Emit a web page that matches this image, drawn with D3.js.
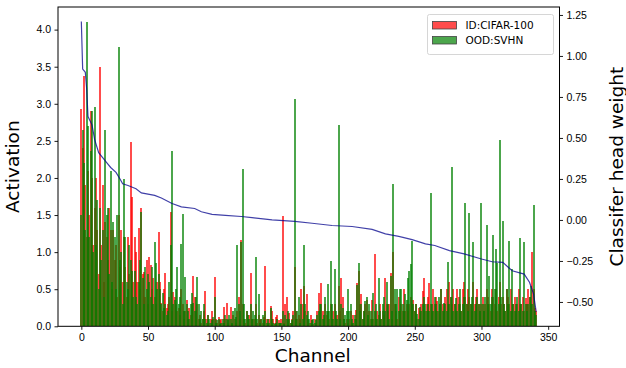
<!DOCTYPE html>
<html>
<head>
<meta charset="utf-8">
<script src="https://cdn.jsdelivr.net/npm/d3@7"></script>
<style>
  body { margin: 0; background: #fff; }
  svg { display: block; font-family: "DejaVu Sans", sans-serif; }
  .tick text { font-size: 10.5px; fill: #000; }
</style>
</head>
<body>
<div id="chart"></div>
<script>
// activation per channel, ID:CIFAR-100 (red)
const idAct = [
  2.93, 2.4, 3.38, 1.9, 1.2, 2.1, 1.5, 2.9, 2.0, 1.1,
  1.6, 2.0, 1.3, 0.7, 3.5, 1.1, 1.9, 0.6, 1.4, 1.2,
  0.9, 1.6, 1.3, 0.5, 1.3, 0.9, 1.1, 0.4, 1.5, 0.8,
  1.3, 0.6, 1.2, 0.8, 0.4, 1.2, 0.7, 2.48, 1.74, 0.6,
  1.2, 1.0, 0.6, 1.33, 0.5, 1.59, 0.7, 0.73, 0.4, 0.9,
  0.3, 0.93, 0.83, 0.5, 0.65, 0.4, 0.3, 0.6, 1.27, 0.6,
  0.31, 0.2, 0.5, 0.72, 0.24, 0.3, 0.4, 1.54, 0.2, 0.46,
  0.4, 0.3, 0.2, 0.25, 0.15, 0.5, 0.3, 0.1, 0.2, 0.35,
  0.1, 0.25, 0.15, 0.3, 0.68, 0.4, 0.2, 0.3, 0.1, 0.15,
  0.05, 0.1, 0.2, 0.48, 0.1, 0.15, 0.05, 0.1, 0.2, 0.1,
  0.66, 0.1, 0.05, 0.12, 0.08, 0.1, 0.05, 0.26, 0.1, 0.31,
  0.05, 0.1, 0.26, 0.03, 0.15, 0.1, 0.05, 0.2, 0.4, 0.1,
  1.16, 0.3, 0.1, 0.05, 0.2, 0.1, 0.15, 0.72, 0.08, 0.1,
  0.1, 0.3, 0.05, 0.15, 0.08, 0.1, 0.05, 0.12, 0.81, 0.1,
  0.05, 0.1, 0.27, 0.2, 0.1, 0.05, 0.12, 0.15, 0.08, 0.05,
  0.1, 1.49, 0.05, 0.3, 0.39, 0.1, 0.18, 0.05, 0.1, 0.2,
  0.8, 0.2, 0.1, 0.15, 0.1, 0.5, 0.3, 0.55, 0.2, 0.43,
  0.1, 0.05, 0.15, 0.08, 0.03, 0.1, 0.05, 0.2, 0.45, 0.1,
  0.58, 0.2, 0.1, 0.3, 0.15, 0.2, 0.1, 0.3, 0.1, 0.2,
  0.3, 0.1, 0.15, 0.55, 0.2, 0.65, 0.4, 0.1, 0.05, 0.1,
  0.05, 0.1, 0.2, 0.05, 0.15, 0.1, 0.22, 0.58, 0.75, 0.3,
  0.43, 0.1, 0.2, 0.3, 0.36, 0.1, 0.2, 0.1, 0.36, 0.1,
  0.97, 0.1, 0.2, 0.15, 0.3, 0.1, 0.2, 0.15, 0.65, 0.3,
  0.2, 0.3, 0.72, 0.1, 1.0, 0.3, 0.2, 0.1, 0.4, 0.2,
  0.3, 0.2, 0.5, 0.2, 0.3, 0.2, 0.3, 0.4, 0.3, 0.36,
  0.2, 0.3, 0.1, 0.25, 0.2, 0.3, 0.48, 0.65, 0.2, 0.3,
  0.4, 0.58, 0.3, 0.2, 0.5, 0.3, 0.4, 0.34, 0.2, 0.3,
  0.5, 0.3, 0.2, 0.4, 0.5, 0.3, 0.6, 0.4, 0.3, 0.5,
  0.3, 0.2, 0.5, 0.4, 0.3, 0.2, 0.5, 0.6, 0.4, 0.3,
  0.5, 0.4, 0.3, 0.2, 0.6, 0.3, 0.4, 0.5, 0.3, 0.2,
  0.3, 0.4, 0.2, 0.3, 0.5, 0.4, 0.3, 0.2, 0.5, 0.4,
  0.3, 0.5, 0.2, 0.4, 0.6, 0.3, 0.4, 0.3, 0.2, 0.5,
  0.4, 0.3, 0.5, 0.2, 0.3, 0.4, 0.2, 0.3, 0.5, 0.3,
  0.3, 0.4, 0.2, 0.38, 0.3, 0.5, 0.4, 0.3, 1.0, 0.5,
  0.25, 0.2
]

// activation per channel, OOD:SVHN (green)
const oodAct = [
  1.5, 2.64, 2.2, 1.3, 4.1, 2.7, 1.2, 2.37, 2.9, 1.0,
  2.95, 1.1, 1.7, 0.5, 1.6, 0.9, 1.3, 0.4, 2.64, 1.5,
  1.6, 0.7, 2.09, 0.6, 1.4, 1.2, 0.5, 1.5, 3.77, 0.9,
  1.0, 0.3, 1.98, 1.2, 0.6, 0.5, 1.1, 0.9, 0.75, 0.4,
  0.75, 0.4, 0.3, 0.6, 0.9, 1.54, 0.65, 0.3, 0.8, 0.5,
  0.7, 0.6, 0.4, 0.8, 0.3, 1.13, 0.86, 0.5, 0.7, 0.5,
  0.3, 0.45, 0.25, 0.3, 0.15, 0.2, 0.6, 1.1, 2.36, 0.3,
  0.35, 0.5, 0.8, 0.3, 0.4, 1.11, 1.51, 0.2, 0.67, 0.3,
  0.2, 0.1, 0.3, 0.45, 0.32, 0.2, 0.4, 0.66, 0.3, 0.1,
  0.2, 0.1, 0.3, 0.1, 0.05, 0.15, 0.1, 0.05, 0.08, 0.12,
  0.4, 0.05, 0.08, 0.1, 0.03, 0.05, 0.1, 0.05, 0.15, 0.1,
  0.08, 0.15, 0.1, 0.05, 0.2, 0.25, 0.12, 1.09, 0.3, 0.2,
  1.14, 2.12, 0.3, 0.1, 0.2, 0.15, 0.1, 0.3, 0.1, 0.2,
  0.15, 0.93, 0.1, 0.43, 0.05, 0.1, 0.15, 0.08, 0.2, 0.05,
  0.1, 0.05, 0.24, 0.1, 0.05, 0.03, 0.05, 0.1, 0.04, 0.05,
  0.05, 0.2, 0.03, 0.15, 0.1, 0.2, 0.1, 0.05, 0.08, 0.15,
  3.07, 0.1, 0.2, 0.39, 0.05, 0.3, 0.1, 1.09, 0.3, 0.15,
  0.2, 0.1, 0.05, 0.08, 0.1, 0.05, 0.08, 0.15, 0.2, 0.3,
  0.3, 0.1, 0.15, 0.4, 0.2, 0.57, 0.2, 0.88, 0.3, 0.1,
  0.77, 0.2, 0.1, 2.71, 0.1, 0.3, 0.25, 0.1, 0.15, 0.2,
  0.5, 0.2, 0.3, 0.1, 0.05, 0.15, 0.1, 0.56, 0.85, 0.2,
  0.3, 0.1, 0.2, 0.34, 0.4, 0.15, 0.3, 0.2, 0.1, 0.45,
  0.2, 0.3, 0.1, 0.65, 0.2, 0.1, 0.3, 0.4, 0.2, 0.6,
  0.3, 0.1, 0.68, 0.2, 1.92, 0.5, 0.3, 0.5, 0.2, 0.5,
  0.5, 0.3, 0.2, 0.43, 0.35, 0.65, 0.75, 0.84, 1.15, 0.3,
  0.2, 0.3, 0.17, 0.1, 0.26, 0.2, 0.3, 0.4, 0.3, 0.2,
  0.3, 0.2, 1.8, 0.3, 0.2, 0.4, 0.3, 0.2, 0.4, 0.3,
  0.5, 0.2, 0.32, 0.3, 0.2, 0.87, 0.3, 0.4, 2.15, 0.2,
  0.3, 0.38, 0.2, 0.3, 0.5, 0.2, 0.3, 0.4, 1.66, 0.3,
  0.2, 1.53, 0.3, 0.4, 1.13, 0.2, 0.3, 0.4, 0.3, 0.2,
  1.66, 0.3, 0.2, 0.4, 1.36, 0.3, 0.68, 0.3, 0.4, 1.23,
  0.5, 1.04, 0.85, 0.3, 2.51, 0.4, 1.42, 0.3, 0.2, 0.5,
  0.3, 1.15, 0.2, 0.77, 0.3, 0.2, 0.3, 0.4, 0.2, 1.19,
  0.3, 0.2, 1.13, 0.3, 0.2, 0.3, 0.4, 0.55, 0.3, 1.63,
  0.2, 0.15
]

// sorted classifier head weight, read as [channel, weight]
const headWeight = [
  [0, 1.21], [1, 0.92], [2, 0.91], [3, 0.90], [4, 0.80], [5, 0.63], [8, 0.58],
  [10, 0.49], [13, 0.41], [16, 0.38], [19, 0.35], [22, 0.32], [26, 0.29],
  [29, 0.25], [31, 0.22], [35, 0.21], [41, 0.19], [45, 0.165], [55, 0.15],
  [60, 0.134], [68, 0.10], [75, 0.08], [85, 0.07], [90, 0.05], [98, 0.034],
  [108, 0.028], [120, 0.021], [128, 0.014], [143, 0.0], [160, -0.009],
  [173, -0.02], [188, -0.034], [203, -0.04], [218, -0.058], [228, -0.085],
  [238, -0.1], [248, -0.12], [258, -0.146], [265, -0.156], [276, -0.187],
  [287, -0.207], [300, -0.238], [308, -0.255], [316, -0.259], [323, -0.31],
  [332, -0.33], [336, -0.38], [339, -0.45], [341, -0.56]
]

const xTicks = [0, 50, 100, 150, 200, 250, 300, 350]
const leftTicks = [0, 0.5, 1, 1.5, 2, 2.5, 3, 3.5, 4]
const rightTicks = [-0.5, -0.25, 0, 0.25, 0.5, 0.75, 1, 1.25]
const legendLabels = ["ID:CIFAR-100", "OOD:SVHN"]

const width = 626
const height = 368
const margin = {top: 7, right: 66.5, bottom: 41.7, left: 58}
const plotW = width - margin.left - margin.right
const plotH = height - margin.top - margin.bottom

const barW = 0.8
const n = idAct.length
// matplotlib style 5% margins on x, sticky zero on the bars
const xPad = (n - 1 + barW) * 0.05
const xScale = d3.scaleLinear()
  .domain([-barW / 2 - xPad, n - 1 + barW / 2 + xPad])
  .range([0, plotW])

const actMax = d3.max(idAct.concat(oodAct))
const yLeft = d3.scaleLinear().domain([0, actMax * 1.05]).range([plotH, 0])

const wExt = d3.extent(headWeight, d => d[1])
const wPad = (wExt[1] - wExt[0]) * 0.05
const yRight = d3.scaleLinear().domain([wExt[0] - wPad, wExt[1] + wPad]).range([plotH, 0])

const svg = d3.select("#chart")
  .append("svg")
    .attr("width", width)
    .attr("height", height)
  .append("g")
    .attr("transform", "translate(" + margin.left + "," + margin.top + ")")

svg.append("defs").append("clipPath")
    .attr("id", "clip")
  .append("rect")
    .attr("width", plotW)
    .attr("height", plotH)

const plot = svg.append("g").attr("clip-path", "url(#clip)")

// bars come out about 2px wide in the original raster, snapped to whole pixels
const drawBars = (values, color) => {
  plot.append("g")
    .attr("shape-rendering", "crispEdges")
    .selectAll("rect")
    .data(values)
    .join("rect")
      .attr("x", (d, i) => Math.round(xScale(i)) - 1)
      .attr("width", 2)
      .attr("y", d => yLeft(d))
      .attr("height", d => plotH - yLeft(d))
      .attr("fill", color)
      .attr("fill-opacity", 0.7)
}

drawBars(idAct, "#ff0000")
drawBars(oodAct, "#008000")

const line = d3.line()
  .x(d => xScale(d[0]))
  .y(d => yRight(d[1]))

plot.append("path")
    .datum(headWeight)
    .attr("fill", "none")
    .attr("stroke", "#00008b")
    .attr("stroke-opacity", 0.75)
    .attr("stroke-width", 1.2)
    .attr("d", line)

// axes
const minus = s => s.replace("-", "\u2212")

svg.append("g")
    .attr("transform", "translate(0," + plotH + ")")
    .call(d3.axisBottom(xScale).tickValues(xTicks).tickSize(3.5).tickPadding(3.5).tickFormat(d3.format("d")))

svg.append("g")
    .call(d3.axisLeft(yLeft).tickValues(leftTicks).tickSize(3.5).tickPadding(3.5).tickFormat(d3.format(".1f")))

svg.append("g")
    .attr("transform", "translate(" + plotW + ",0)")
    .call(d3.axisRight(yRight).tickValues(rightTicks).tickSize(3.5).tickPadding(3.5)
      .tickFormat(d => minus(d3.format(".2f")(d))))

svg.selectAll(".domain").remove()
svg.selectAll(".tick line").attr("stroke", "#000").attr("stroke-width", 0.9)

// frame
svg.append("rect")
    .attr("width", plotW)
    .attr("height", plotH)
    .attr("fill", "none")
    .attr("stroke", "#000")
    .attr("stroke-width", 1)

// axis titles
svg.append("text")
    .attr("x", plotW / 2 + 4)
    .attr("y", plotH + 36)
    .attr("text-anchor", "middle")
    .style("font-size", "18.5px")
    .text("Channel")

svg.append("text")
    .attr("transform", "translate(" + (-39) + "," + (plotH / 2) + ") rotate(-90)")
    .attr("text-anchor", "middle")
    .style("font-size", "18.5px")
    .text("Activation")

svg.append("text")
    .attr("transform", "translate(" + (plotW + 63) + "," + (plotH / 2) + ") rotate(-90)")
    .attr("text-anchor", "middle")
    .style("font-size", "18.5px")
    .text("Classifer head weight")

// legend
const legend = svg.append("g").attr("transform", "translate(369.5,7.5)")
legend.append("rect")
    .attr("width", 126)
    .attr("height", 40)
    .attr("rx", 2)
    .attr("fill", "#fff")
    .attr("fill-opacity", 0.8)
    .attr("stroke", "#ccc")
    .attr("stroke-width", 0.8)

const legendColors = ["#ff0000", "#008000"]
legendLabels.forEach((label, i) => {
  const row = legend.append("g").attr("transform", "translate(5," + (7 + i * 15) + ")")
  row.append("rect")
      .attr("width", 24)
      .attr("height", 7.5)
      .attr("fill", legendColors[i])
      .attr("fill-opacity", 0.7)
      .attr("stroke", "#444")
      .attr("stroke-width", 0.8)
  row.append("text")
      .attr("x", 33)
      .attr("y", 7.8)
      .style("font-size", "10.5px")
      .text(label)
})
</script>
</body>
</html>
